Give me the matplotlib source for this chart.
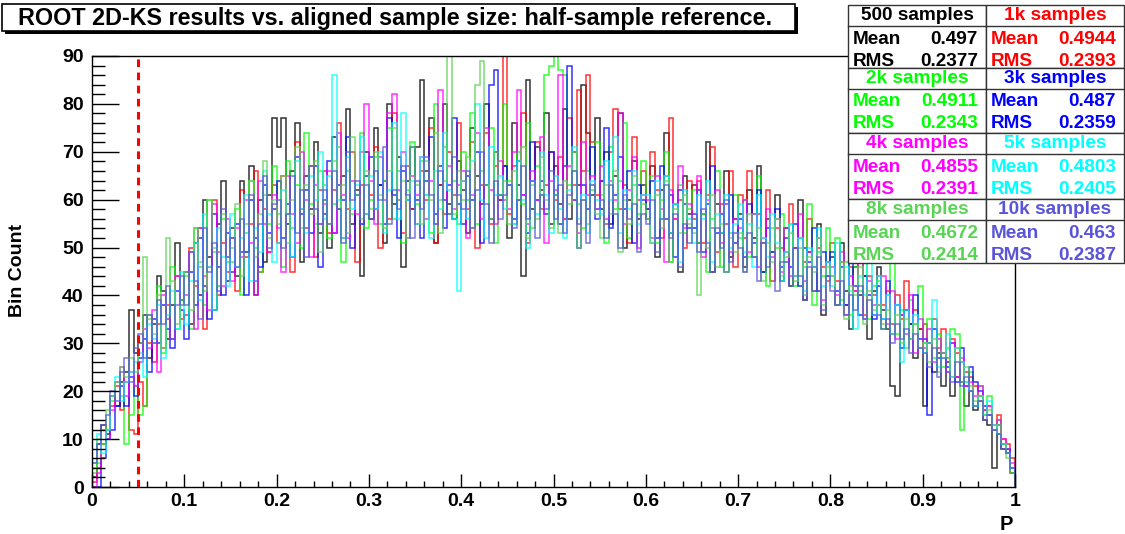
import numpy as np
import matplotlib
matplotlib.use("Agg")
import matplotlib.pyplot as plt
from matplotlib.patches import Rectangle
from matplotlib.ticker import MultipleLocator

plt.rcParams['font.family'] = ['Liberation Sans', 'DejaVu Sans']
plt.rcParams['font.weight'] = 'bold'

# bin edges of the P histograms (200 bins on [0, 1])
n_bins = 200
p_lo, p_hi = 0.0, 1.0

# bin contents, 10 bins per group
counts_500 = """
2 9 13 11 19 17 22 24 37 28  30 36 27 34 44 41 31 38 51 39
45 34 51 40 60 48 37 55 64 43  54 44 64 49 67 40 60 47 61 77
71 77 55 66 76 47 65 58 72 53  60 50 73 58 65 79 55 62 44 70
56 75 63 51 80 59 69 46 64 58  71 85 66 77 51 63 80 59 56 68
62 53 75 65 59 80 56 70 60 67  52 76 63 44 85 58 71 62 78 55
67 59 79 56 70 63 84 74 61 77  58 70 55 65 78 50 60 68 56 63
56 67 48 62 74 53 59 45 65 57  63 51 57 72 45 59 53 66 48 56
57 46 62 52 67 45 56 49 61 43  54 42 50 60 39 49 46 55 36 47
48 38 51 41 33 46 40 44 31 41  46 37 33 21 19 36 37 34 27 33
17 30 24 28 21 26 19 23 22 17  20 16 19 14 13 4 11 8 7 3
"""
counts_1k = """
1 4 9 12 17 21 16 22 12 11  22 17 30 26 34 29 38 31 44 35
36 50 42 54 33 46 60 40 51 45  52 41 62 48 55 66 45 58 49 63
51 65 57 45 72 58 54 67 48 62  66 53 62 76 52 58 70 47 63 57
61 71 50 64 56 78 60 53 67 58  55 66 60 75 51 63 57 70 61 76
64 58 72 50 63 74 55 67 60 90  57 67 60 78 51 64 72 58 63 70
60 69 56 77 63 83 66 86 72 61  64 55 70 79 58 63 51 73 60 66
58 70 62 52 65 77 56 60 50 64  56 64 51 61 71 49 59 55 66 46
61 52 66 48 57 51 62 43 54 50  49 59 44 52 47 56 41 50 46 43
51 43 47 38 46 41 49 36 44 40  44 38 41 34 40 35 43 31 37 33
34 30 35 29 33 27 31 28 26 24  23 21 18 16 17 13 15 10 9 6
"""
counts_2k = """
3 5 9 12 18 22 19 9 15 21  15 17 36 30 42 28 35 46 33 39
44 33 54 46 38 60 49 42 56 47  47 58 40 53 64 50 45 61 55 67
57 46 68 54 63 50 74 59 55 66  63 52 59 71 47 66 57 61 74 54
60 69 55 64 75 56 66 51 62 72  59 68 61 53 80 60 71 57 64 55
70 60 78 55 66 63 75 51 61 80  64 55 70 59 76 54 67 61 86 88
90 87 86 63 66 59 54 66 62 72  61 51 71 58 64 76 52 63 57 68
56 65 51 60 70 47 59 63 53 58  62 51 57 45 56 66 46 59 53 61
52 60 48 57 65 45 42 54 50 57  47 55 42 52 46 59 38 49 44 54
44 52 39 47 36 46 41 51 35 42  43 33 40 47 32 37 29 39 34 42
30 35 27 32 25 29 33 32 12 22  24 17 21 15 19 12 14 9 8 4
"""
counts_3k = """
0 0 6 10 12 17 21 17 23 19  27 31 24 35 30 38 33 29 41 37
31 45 38 52 42 35 57 46 40 53  45 55 49 40 60 52 46 63 53 58
64 52 59 48 69 57 62 53 67 46  57 68 53 63 60 73 50 61 55 65
69 58 63 55 77 61 52 66 60 71  60 52 64 73 57 67 54 63 77 59
55 65 60 70 51 63 84 87 61 67  63 56 68 61 53 72 60 64 57 70
61 55 67 88 60 50 63 58 71 56  64 75 54 61 69 58 66 51 63 60
58 64 52 67 56 61 48 62 59 54  54 62 49 59 67 53 57 45 61 51
56 48 59 51 62 45 54 49 58 46  52 46 55 42 50 47 54 41 49 44
49 41 46 38 51 42 36 44 40 35  42 35 43 32 38 29 37 34 40 31
31 15 33 27 28 25 30 22 29 21  25 22 20 17 15 12 13 9 8 4
"""
counts_4k = """
0 3 12 10 16 22 25 19 24 21  26 33 29 37 24 40 35 31 44 38
40 49 33 54 44 37 59 49 42 56  43 54 48 60 51 40 64 55 49 61
54 45 65 57 51 70 60 48 63 55  59 66 53 74 61 52 64 57 70 80
64 55 69 60 78 82 62 70 52 65  61 69 56 64 55 83 60 67 58 63
66 52 61 74 56 75 62 55 68 60  58 70 83 61 55 66 60 73 51 64
62 86 56 67 60 53 72 61 65 58  67 56 64 60 78 55 62 69 50 61
60 52 65 58 47 62 56 67 54 59  57 65 48 60 54 62 51 59 49 56
54 60 49 57 46 52 58 48 56 45  54 44 50 57 43 49 46 52 39 47
46 40 49 36 44 41 48 35 43 38  38 44 34 41 31 36 32 40 28 35
29 33 26 31 28 24 30 23 27 21  22 19 21 16 17 12 14 10 8 5
"""
counts_5k = """
5 11 7 12 19 23 18 22 24 26  28 23 34 31 38 27 36 41 33 45
34 43 51 39 57 46 37 54 48 42  57 46 52 61 43 54 49 66 57 47
51 62 57 48 68 58 53 65 60 70  56 65 86 60 52 69 58 63 73 57
65 58 70 53 62 76 56 78 60 64  55 69 61 52 66 58 74 62 56 41
64 56 68 80 60 52 71 61 65 58  63 55 68 60 50 64 57 70 61 53
65 58 52 62 71 56 61 53 64 60  57 68 60 73 53 62 58 66 55 61
61 51 64 56 65 53 59 47 62 56  51 61 56 64 47 57 53 61 50 55
59 49 55 46 61 52 48 57 51 43  49 55 44 52 41 50 46 54 42 47
42 51 38 46 41 33 44 40 48 36  44 35 40 32 38 26 37 31 36 29
28 30 39 25 27 32 23 29 26 22  20 17 19 15 18 13 11 9 7 4
"""
counts_8k = """
4 10 12 16 19 22 25 23 27 24  30 48 35 32 40 29 52 43 34 38
45 37 54 47 41 60 50 42 57 48  50 59 44 55 64 48 57 68 52 60
55 65 51 60 71 54 63 57 68 49  60 55 68 58 63 53 73 61 56 66
58 70 61 54 66 75 60 64 52 71  63 55 68 60 74 53 64 90 57 66
60 69 54 84 89 63 56 70 61 64  55 66 60 71 52 63 56 69 60 54
61 53 64 59 70 50 60 55 63 57  52 63 57 66 49 60 55 65 53 59
56 51 61 54 64 47 58 53 61 55  53 40 57 50 61 46 55 45 52 49
53 45 57 48 54 43 51 47 56 44  48 53 43 50 40 48 45 52 38 46
44 38 47 35 42 40 46 34 41 37  38 34 37 32 36 30 35 31 34 29
30 26 31 24 28 27 23 29 22 25  21 18 19 15 16 12 13 9 6 3
"""
counts_10k = """
5 9 13 15 20 18 24 27 22 29  32 27 36 30 39 34 42 31 38 44
38 49 43 35 54 45 51 41 58 48  52 46 56 49 61 43 55 65 50 59
60 50 57 65 53 62 48 67 58 55  62 55 66 58 51 70 60 64 55 63
56 66 60 71 55 62 58 67 61 52  64 58 69 61 55 66 60 57 69 61
58 66 54 62 70 59 51 64 56 61  63 54 60 67 56 64 52 61 58 66
56 63 53 61 66 55 60 51 63 58  60 52 63 57 50 61 56 59 49 57
55 60 49 56 63 52 57 46 55 51  57 49 58 51 45 54 50 60 47 53
50 45 53 48 43 51 46 49 41 47  47 42 50 44 39 46 41 48 37 44
41 38 43 36 40 37 42 35 39 36  36 33 35 30 34 31 33 28 32 29
28 25 29 23 27 24 22 26 21 23  20 17 18 14 15 12 11 8 7 4
"""

labels = ["500 samples", "1k samples", "2k samples", "3k samples",
          "4k samples", "5k samples", "8k samples", "10k samples"]
means = ["0.497", "0.4944", "0.4911", "0.487", "0.4855", "0.4803", "0.4672", "0.463"]
rmss = ["0.2377", "0.2393", "0.2343", "0.2359", "0.2391", "0.2405", "0.2414", "0.2387"]
colors = ["#000000", "#ff0000", "#00ff00", "#0000ff",
          "#ff00ff", "#00ffff", "#59d454", "#5954d8"]
cut_p = 0.05

series = [np.array(s.split(), dtype=float) for s in
          (counts_500, counts_1k, counts_2k, counts_3k,
           counts_4k, counts_5k, counts_8k, counts_10k)]
edges = np.linspace(p_lo, p_hi, n_bins + 1)

fig = plt.figure(figsize=(11.25, 5.34), dpi=100)
ax = fig.add_axes([92 / 1125, 47 / 534, 923 / 1125, 431 / 534])

for vals, col in zip(series, colors):
    ax.stairs(vals, edges, color=col, lw=1.1, alpha=0.8, baseline=0)

ax.axvline(cut_p, color="#ff0000", lw=2.2, ls=(0, (2.5, 1.8)), zorder=5)

ax.set_xlim(0, 1)
ax.set_ylim(0, 90)
ax.xaxis.set_major_locator(MultipleLocator(0.1))
ax.xaxis.set_minor_locator(MultipleLocator(0.02))
ax.yaxis.set_major_locator(MultipleLocator(10))
ax.yaxis.set_minor_locator(MultipleLocator(2))
ax.xaxis.set_major_formatter(plt.FuncFormatter(lambda v, _: "0" if v == 0 else ("1" if v == 1 else f"{v:.1f}")))
ax.tick_params(axis="x", which="major", direction="in", length=9.5, width=1, pad=4, labelsize=14)
ax.tick_params(axis="x", which="minor", direction="in", length=4.5, width=1)
ax.tick_params(axis="y", which="major", direction="in", length=19.5, width=1, pad=6, labelsize=14)
ax.tick_params(axis="y", which="minor", direction="in", length=9.5, width=1)
for s in ax.spines.values():
    s.set_linewidth(1.0)

fig.text(18 / 1125, 1 - 270 / 534, "Bin Count", rotation=90, ha="center", va="center",
         fontsize=14, fontweight="bold")
fig.text(1013 / 1125, 1 - 524 / 534, "P", ha="right", va="center", fontsize=14.5, fontweight="bold")

# overlay in pixel coordinates for the title box and the stats boxes
ov = fig.add_axes([0, 0, 1, 1], zorder=10)
ov.set_xlim(0, 1125)
ov.set_ylim(534, 0)
ov.axis("off")

ov.add_patch(Rectangle((5, 7), 793, 27, facecolor="black", edgecolor="black", lw=0))
ov.add_patch(Rectangle((2, 4), 793, 27, facecolor="white", edgecolor="black", lw=1.2))
ov.text(18, 18.5, "ROOT 2D-KS results vs. aligned sample size: half-sample reference.",
        ha="left", va="center", fontsize=16.8, fontweight="bold")

col_x = [848, 986]
col_w = 138
group_top = [5, 68, 133, 199]
group_h = [63, 65, 66, 64]
for k in range(8):
    r, c = divmod(k, 2)
    x0 = col_x[c]
    y0 = group_top[r]
    h = group_h[r]
    ov.add_patch(Rectangle((x0, y0), col_w, h, facecolor="white", edgecolor="#333333", lw=1.0))
    ov.plot([x0, x0 + col_w], [y0 + 21, y0 + 21], color="#333333", lw=1.0)
    ov.text(x0 + col_w / 2, y0 + 10.5, labels[k], ha="center", va="center",
            fontsize=13.7, fontweight="bold", color=colors[k])
    ov.text(x0 + 5, y0 + 34, "Mean", ha="left", va="center", fontsize=13.7,
            fontweight="bold", color=colors[k])
    ov.text(x0 + col_w - 8, y0 + 34, means[k], ha="right", va="center", fontsize=13.7,
            fontweight="bold", color=colors[k])
    ov.text(x0 + 5, y0 + 56, "RMS", ha="left", va="center", fontsize=13.7,
            fontweight="bold", color=colors[k])
    ov.text(x0 + col_w - 8, y0 + 56, rmss[k], ha="right", va="center", fontsize=13.7,
            fontweight="bold", color=colors[k])

fig.savefig("out.png", dpi=100)
